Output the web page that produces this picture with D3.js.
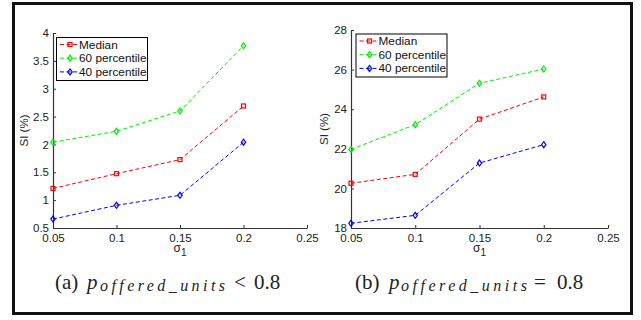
<!DOCTYPE html>
<html><head><meta charset="utf-8">
<script src="https://cdn.jsdelivr.net/npm/d3@7"></script>
<style>body{margin:0;background:#fff}svg{display:block}</style>
</head><body>
<svg id="c" width="641" height="320"></svg>
<script>
const sigma = [0.05, 0.1, 0.15, 0.2];
const xTicks = [0.05, 0.1, 0.15, 0.2, 0.25];
const seriesNames = ["Median", "60 percentile", "40 percentile"];
const seriesColors = ["#ff0000", "#00ee00", "#0000ff"];
const seriesMarkers = ["square", "diamond", "diamond"];
// Panel (a)
const aMedian = [1.21, 1.475, 1.727, 2.69];
const a60 = [2.04, 2.236, 2.60, 3.77];
const a40 = [0.66, 0.907, 1.087, 2.04];
const aYTicks = [0.5, 1, 1.5, 2, 2.5, 3, 3.5, 4];
// Panel (b)
const bMedian = [20.26, 20.71, 23.5, 24.62];
const b60 = [21.97, 23.22, 25.31, 26.03];
const b40 = [18.24, 18.64, 21.28, 22.21];
const bYTicks = [18, 20, 22, 24, 26, 28];

const SANS = "'Liberation Sans', sans-serif";
const SERIF = "'Liberation Serif', serif";

const svg = d3.select("#c");
svg.append("rect").attr("x",13.5).attr("y",3.5).attr("width",618).attr("height",310)
  .attr("fill","none").attr("stroke","#111").attr("stroke-width",3);

function panel(o){
  const g = svg.append("g");
  const x = d3.scaleLinear().domain([0.05,0.25]).range([o.x0,o.x1]);
  const y = d3.scaleLinear().domain(o.yDomain).range([o.y0,o.y1]);
  const xa = g.append("g").attr("transform",`translate(0,${o.y0})`)
    .call(d3.axisBottom(x).tickValues(xTicks).tickSizeInner(-3).tickSizeOuter(0).tickPadding(4)
      .tickFormat(d=>String(+d.toFixed(2))));
  const ya = g.append("g").attr("transform",`translate(${o.x0},0)`)
    .call(d3.axisLeft(y).tickValues(o.yTicks).tickSizeInner(-3).tickSizeOuter(0).tickPadding(4)
      .tickFormat(d=>String(d)));
  [xa,ya].forEach(a=>{
    a.select(".domain").attr("stroke","#333").attr("stroke-width",1.2);
    a.selectAll(".tick line").attr("stroke","#333");
    a.selectAll("text").attr("font-family",null).style("font-family",SANS).attr("font-size",11.5).attr("fill","#222");
  });
  xa.selectAll("text").attr("dy","0.85em");
  g.append("text").attr("transform",`translate(${o.ylabX},${(o.y0+o.y1)/2}) rotate(-90)`)
    .attr("text-anchor","middle").style("font-family",SANS).attr("font-size",11.5).attr("fill","#222")
    .text("SI (%)");
  const sl = g.append("text").attr("x",x(0.15)).attr("y",o.y0+23.5).attr("text-anchor","middle")
    .style("font-family",SANS).attr("font-size",12).attr("fill","#222");
  sl.append("tspan").text("σ");
  sl.append("tspan").attr("dy",4.5).attr("font-size",10).text("1");
  const line = d3.line().x((d,i)=>x(sigma[i])).y(d=>y(d));
  o.series.forEach((s,k)=>{
    g.append("path").attr("d",line(s)).attr("fill","none").attr("stroke",seriesColors[k])
      .attr("stroke-width",1).attr("stroke-dasharray","4,2.5");
    s.forEach((v,i)=>drawMarker(g, x(sigma[i]), y(v), k));
  });
  const lg = g.append("g");
  lg.append("rect").attr("x",o.legX+0.5).attr("y",o.legY+0.5).attr("width",91).attr("height",43)
    .attr("fill","#fff").attr("stroke","#000").attr("stroke-width",1);
  seriesNames.forEach((n,k)=>{
    const yy = o.legY + 7.5 + k*13.7;
    lg.append("line").attr("x1",o.legX+4).attr("x2",o.legX+22).attr("y1",yy).attr("y2",yy)
      .attr("stroke",seriesColors[k]).attr("stroke-dasharray","4,2.5");
    drawMarker(lg, o.legX+14, yy, k);
    lg.append("text").attr("x",o.legX+23).attr("y",yy+4).style("font-family",SANS)
      .attr("font-size",11.8).attr("fill","#111").text(n);
  });
  const c = o.cap;
  const capText = (xx, yy, txt, size, italic, len) => {
    const t = g.append("text").attr("x",xx).attr("y",yy).style("font-family",SERIF)
      .attr("font-size",size).attr("fill","#222").text(txt);
    if (italic) t.attr("font-style","italic");
    if (len) t.attr("textLength",len).attr("lengthAdjust","spacing");
  };
  capText(c[0], 289, o.capLabel, 21, false, null);
  capText(c[1], 289, "p", 21, true, null);
  capText(c[2], 291, "offered_units", 16, true, c[3]-c[2]);
  capText(c[4], 289, o.capRel, 21, false, null);
  capText(c[5], 289, "0.8", 21, false, null);
}
function drawMarker(g, cx, cy, k){
  if (seriesMarkers[k]==="square"){
    g.append("rect").attr("x",cx-2).attr("y",cy-2).attr("width",4).attr("height",4)
      .attr("fill","none").attr("stroke",seriesColors[k]).attr("stroke-width",1.2);
  } else {
    g.append("path").attr("d",`M${cx},${cy-3}L${cx+2.2},${cy}L${cx},${cy+3}L${cx-2.2},${cy}Z`)
      .attr("fill","none").attr("stroke",seriesColors[k]).attr("stroke-width",1.2);
  }
}
panel({x0:53,x1:307,y0:228,y1:33,yDomain:[0.5,4],yTicks:aYTicks,series:[aMedian,a60,a40],
  ylabX:28,legX:56,legY:37,capLabel:"(a)",capRel:"<",
  cap:[55,87,100,225,234,254]});
panel({x0:351,x1:608,y0:228,y1:30,yDomain:[18,28],yTicks:bYTicks,series:[bMedian,b60,b40],
  ylabX:328,legX:355.5,legY:33.5,capLabel:"(b)",capRel:"=",
  cap:[355,389,401,527,534,557]});
</script>
</body></html>
